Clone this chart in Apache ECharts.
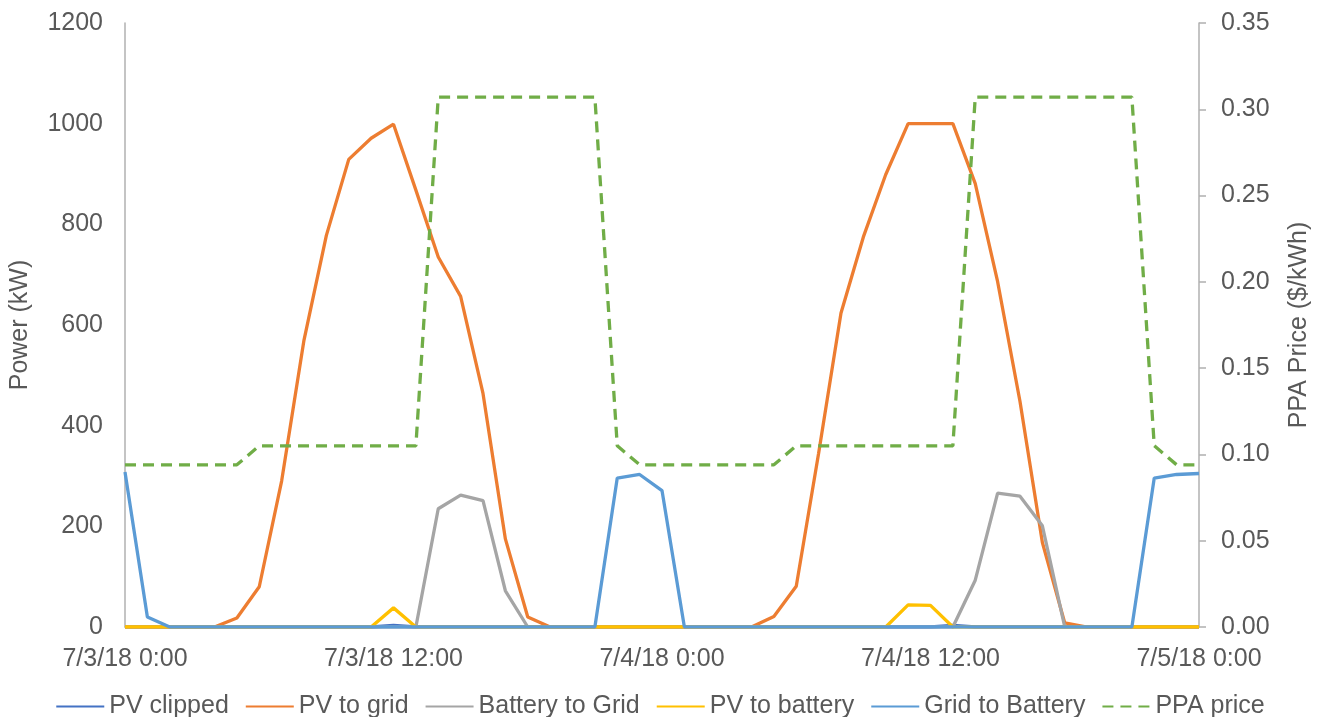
<!DOCTYPE html>
<html>
<head>
<meta charset="utf-8">
<script src="https://cdn.jsdelivr.net/npm/echarts@6/dist/echarts.min.js"></script>
<style>
  html, body { margin: 0; padding: 0; background: #fff; }
  #chart { width: 1320px; height: 717px; }
</style>
</head>
<body>
<div id="chart"></div>
<script>
// Hourly timestamps from 7/3/18 0:00 to 7/5/18 0:00 (49 points)
const timeLabels = [];
for (let h = 0; h <= 48; h++) {
  timeLabels.push('7/' + (3 + Math.floor(h / 24)) + '/18 ' + (h % 24) + ':00');
}

// Power flows, kW
const pvClipped = [
  0, 0, 0, 0, 0, 0, 0, 0, 0, 0, 0, 0, 3, 0, 0, 0, 0, 0, 0, 0, 0, 0, 0, 0,
  0, 0, 0, 0, 0, 0, 0, 0, 0, 0, 0, 0, 0, 3, 0, 0, 0, 0, 0, 0, 0, 0, 0, 0, 0
];
const pvToGrid = [
  0, 0, 0, 0, 0, 18, 80, 290, 570, 778, 929, 971, 999, 868, 735, 657, 464, 175, 20, 0, 0, 0, 0, 0,
  0, 0, 0, 0, 0, 21, 81, 345, 624, 775, 899, 1000, 1000, 1000, 881, 686, 448, 168, 8, 0, 0, 0, 0, 0, 0
];
const batteryToGrid = [
  0, 0, 0, 0, 0, 0, 0, 0, 0, 0, 0, 0, 0, 0, 235, 262, 251, 72, 0, 0, 0, 0, 0, 0,
  0, 0, 0, 0, 0, 0, 0, 0, 0, 0, 0, 0, 0, 0, 93, 266, 260, 201, 0, 0, 0, 0, 0, 0, 0
];
const pvToBattery = [
  0, 0, 0, 0, 0, 0, 0, 0, 0, 0, 0, 0, 38, 0, 0, 0, 0, 0, 0, 0, 0, 0, 0, 0,
  0, 0, 0, 0, 0, 0, 0, 0, 0, 0, 0, 44, 43, 0, 0, 0, 0, 0, 0, 0, 0, 0, 0, 0, 0
];
const gridToBattery = [
  308, 20, 0, 0, 0, 0, 0, 0, 0, 0, 0, 0, 0, 0, 0, 0, 0, 0, 0, 0, 0, 0, 296, 303,
  271, 0, 0, 0, 0, 0, 0, 0, 0, 0, 0, 0, 0, 0, 0, 0, 0, 0, 0, 0, 0, 0, 296, 303, 305
];

// PPA price, $/kWh
const ppaPrice = [
  0.094, 0.094, 0.094, 0.094, 0.094, 0.094,
  0.105, 0.105, 0.105, 0.105, 0.105, 0.105, 0.105, 0.105,
  0.307, 0.307, 0.307, 0.307, 0.307, 0.307, 0.307, 0.307,
  0.105,
  0.094, 0.094, 0.094, 0.094, 0.094, 0.094, 0.094,
  0.105, 0.105, 0.105, 0.105, 0.105, 0.105, 0.105, 0.105,
  0.307, 0.307, 0.307, 0.307, 0.307, 0.307, 0.307, 0.307,
  0.105,
  0.094, 0.094
];

const FONT = '"Liberation Sans", Arial, sans-serif';
const TEXT = '#595959';
const AXIS = '#B0B0B0';
const LINE_W = 3.3;

function line(name, data, color, extra) {
  return Object.assign({
    name: name,
    type: 'line',
    data: data,
    symbol: 'none',
    lineStyle: { color: color, width: LINE_W },
    itemStyle: { color: color, opacity: 0 },
    animation: false
  }, extra || {});
}

const chart = echarts.init(document.getElementById('chart'), null, { renderer: 'canvas' });
chart.setOption({
  backgroundColor: '#fff',
  textStyle: { fontFamily: FONT },
  grid: { left: 125, right: 109, top: 23, bottom: 90, containLabel: false },
  legend: {
    top: 689,
    left: 'center',
    itemWidth: 48,
    itemHeight: 14,
    itemGap: 16,
    itemStyle: { opacity: 0 },
    textStyle: { color: TEXT, fontSize: 25, fontFamily: FONT },
    data: ['PV clipped', 'PV to grid', 'Battery to Grid', 'PV to battery', 'Grid to Battery', 'PPA price']
  },
  xAxis: {
    type: 'category',
    data: timeLabels,
    boundaryGap: false,
    axisLine: { show: true, lineStyle: { color: AXIS, width: 1.5 } },
    axisTick: { show: false },
    axisLabel: {
      interval: 11,
      color: TEXT,
      fontSize: 25,
      fontFamily: FONT,
      margin: 20
    },
    splitLine: { show: false }
  },
  yAxis: [
    {
      type: 'value',
      min: 0,
      max: 1200,
      interval: 200,
      name: 'Power (kW)',
      nameLocation: 'middle',
      nameRotate: 90,
      nameGap: 92,
      nameTextStyle: { color: TEXT, fontSize: 25, fontFamily: FONT },
      axisLine: { show: true, lineStyle: { color: AXIS, width: 1.5 } },
      axisTick: { show: false },
      axisLabel: {
        color: TEXT, fontSize: 25, fontFamily: FONT, margin: 22,
        formatter: v => String(v)
      },
      splitLine: { show: false }
    },
    {
      type: 'value',
      position: 'right',
      min: 0,
      max: 0.35,
      interval: 0.05,
      name: 'PPA Price ($/kWh)',
      nameLocation: 'middle',
      nameRotate: 90,
      nameGap: 88,
      nameTextStyle: { color: TEXT, fontSize: 25, fontFamily: FONT },
      axisLine: { show: true, lineStyle: { color: AXIS, width: 1.5 } },
      axisTick: { show: true, length: 7, lineStyle: { color: AXIS, width: 1.5 } },
      axisLabel: {
        color: TEXT, fontSize: 25, fontFamily: FONT, margin: 22,
        formatter: v => v.toFixed(2)
      },
      splitLine: { show: false }
    }
  ],
  series: [
    line('PV clipped', pvClipped, '#4472C4'),
    line('PV to grid', pvToGrid, '#ED7D31'),
    line('Battery to Grid', batteryToGrid, '#A5A5A5'),
    line('PV to battery', pvToBattery, '#FFC000'),
    line('Grid to Battery', gridToBattery, '#5B9BD5'),
    line('PPA price', ppaPrice, '#70AD47', {
      yAxisIndex: 1,
      lineStyle: { color: '#70AD47', width: LINE_W, type: [11, 7] }
    })
  ]
});
</script>
</body>
</html>
